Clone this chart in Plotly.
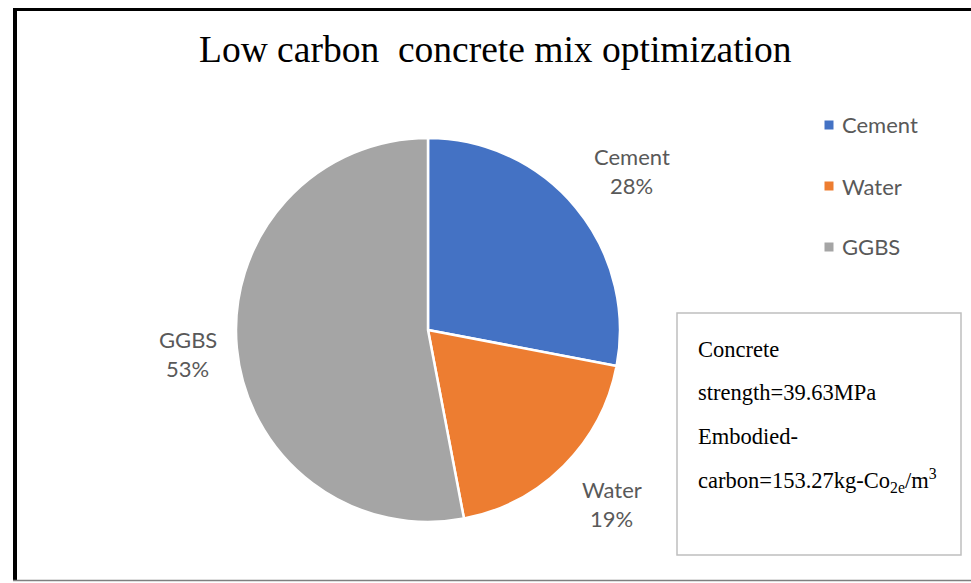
import math
import plotly.graph_objects as go

# ---- data ----
categories = ["Cement", "Water", "GGBS"]
shares = [28, 19, 53]
colors = ["#4472C4", "#ED7D31", "#A5A5A5"]
title_text = "Low carbon  concrete mix optimization"
note_lines = [
    "Concrete",
    "strength=39.63MPa",
    "Embodied-",
    "carbon=153.27kg-Co<sub>2e</sub>/m<sup>3</sup>",
]

# ---- layout geometry (pixels) ----
W, H = 971, 583
cx, cy, r = 428, 330, 192
label_font = dict(family="Lato, Open Sans, sans-serif", size=22, color="#595959")
serif = "Liberation Serif, Times New Roman, serif"


def px(x):
    return x / W


def py(y):
    return 1 - y / H


def clip(v):
    return max(-1.0, min(1.0, v))


fig = go.Figure(
    go.Pie(
        labels=categories,
        values=shares,
        sort=False,
        direction="clockwise",
        rotation=0,
        marker=dict(colors=colors, line=dict(color="white", width=2.5)),
        textinfo="none",
        hoverinfo="label+percent",
        showlegend=False,
        domain=dict(x=[px(cx - r), px(cx + r)], y=[py(cy + r), py(cy - r)]),
    )
)

annotations = []
shapes = []

# data labels outside each slice: the label box's nearest corner sits on the
# slice's mid-angle ray, a small gap outside the rim
total = sum(shares)
cum = 0.0
char_w, half_h, gap, line_gap = 12.5, 21, 24, 14.5
for name, v in zip(categories, shares):
    mid = (cum + v / 2) / total
    cum += v
    th = 2 * math.pi * mid
    dx, dy = math.sin(th), -math.cos(th)
    half_w = char_w * max(len(name), 3) / 2
    ax, ay = cx + dx * (r + gap), cy + dy * (r + gap)
    lx = ax + half_w * clip(dx / 0.5)
    ly = ay + half_h * clip(dy / 0.5)
    pct = f"{round(100 * v / total)}%"
    for txt, off in ((name, -line_gap), (pct, line_gap)):
        annotations.append(dict(
            x=px(lx), y=py(ly + off), xref="paper", yref="paper",
            text=txt, showarrow=False, xanchor="center", yanchor="middle",
            font=label_font,
        ))

# legend
leg_x, leg_y0, leg_step, sq = 829, 125, 61, 9
for i, (name, c) in enumerate(zip(categories, colors)):
    yy = leg_y0 + i * leg_step
    shapes.append(dict(
        type="rect", xref="paper", yref="paper",
        x0=px(leg_x - sq / 2), x1=px(leg_x + sq / 2),
        y0=py(yy + sq / 2), y1=py(yy - sq / 2),
        fillcolor=c, line=dict(width=0),
    ))
    annotations.append(dict(
        x=px(leg_x + 11), y=py(yy), xref="paper", yref="paper",
        text=name, showarrow=False, xanchor="left", yanchor="middle",
        font=label_font,
    ))

# title
annotations.append(dict(
    x=px(495), y=py(50), xref="paper", yref="paper",
    text=title_text, showarrow=False, xanchor="center", yanchor="middle",
    font=dict(family=serif, size=37.5, color="black"),
))

# note box
shapes.append(dict(
    type="rect", xref="paper", yref="paper",
    x0=px(677), x1=px(961), y0=py(555), y1=py(313),
    line=dict(color="#BFBFBF", width=1.5), fillcolor="white",
))
for txt, yy in zip(note_lines, [349, 392, 436, 481]):
    annotations.append(dict(
        x=px(696), y=py(yy), xref="paper", yref="paper",
        text=txt, showarrow=False, xanchor="left", yanchor="middle",
        font=dict(family=serif, size=22.5, color="black"),
    ))

# outer frame lines
shapes += [
    dict(type="line", xref="paper", yref="paper", x0=px(13), x1=1, y0=py(9.5), y1=py(9.5),
         line=dict(color="black", width=3)),
    dict(type="line", xref="paper", yref="paper", x0=px(15), x1=px(15), y0=py(8), y1=py(581),
         line=dict(color="black", width=4)),
    dict(type="line", xref="paper", yref="paper", x0=px(13), x1=1, y0=py(580.5), y1=py(580.5),
         line=dict(color="#7F7F7F", width=1.5)),
]

fig.update_layout(
    width=W, height=H, autosize=False,
    margin=dict(l=0, r=0, t=0, b=0, pad=0),
    paper_bgcolor="white", plot_bgcolor="white",
    annotations=annotations, shapes=shapes,
)

fig.write_html("out.html")
